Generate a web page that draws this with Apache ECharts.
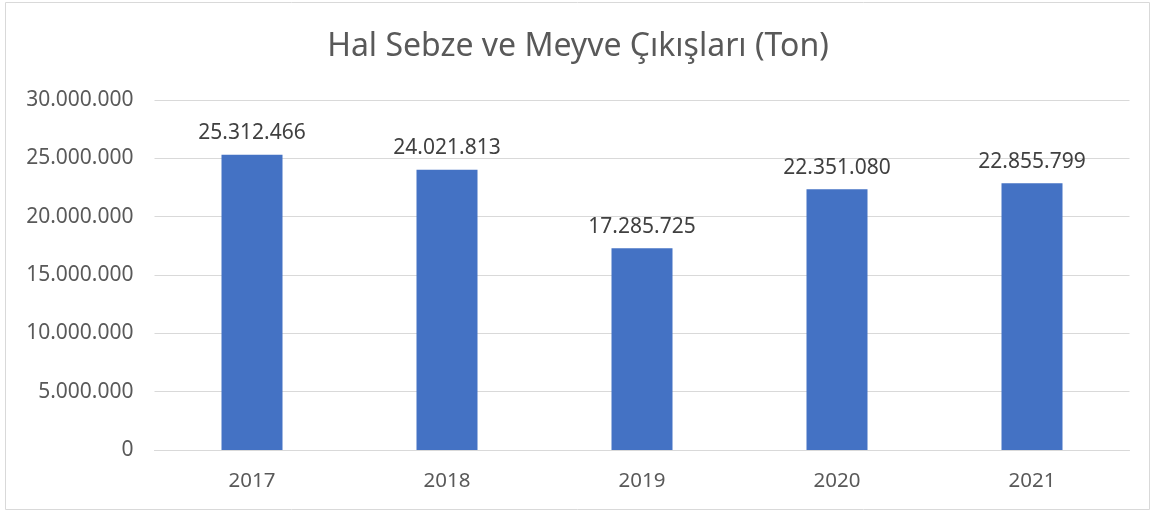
<!DOCTYPE html>
<html>
<head>
<meta charset="utf-8">
<script src="https://cdn.jsdelivr.net/npm/echarts@6/dist/echarts.min.js"></script>
<style>
    html, body { margin: 0; padding: 0; background: #fff; }
    #chart { width: 1156px; height: 513px; }
</style>
</head>
<body>
<div id="chart"></div>
<script>
// yıllar ve çıkış miktarları (ton)
const years = ['2017', '2018', '2019', '2020', '2021']
const tonnage = [25312466, 24021813, 17285725, 22351080, 22855799]

const fmt = (v) => String(v).replace(/\B(?=(\d{3})+(?!\d))/g, '.')

const myChart = echarts.init(document.getElementById('chart'))
const option = {
    textStyle: { fontFamily: 'Noto Sans' },
    title: {
        text: 'Hal Sebze ve Meyve Çıkışları (Ton)',
        left: 'center',
        top: 26,
        textStyle: { color: '#595959', fontSize: 32, fontWeight: 'normal', fontFamily: 'Noto Sans' }
    },
    graphic: [
        {
            type: 'rect',
            shape: { x: 5.5, y: 2.5, width: 1144, height: 507 },
            style: { fill: 'none', stroke: '#d9d9d9', lineWidth: 1 },
            silent: true
        }
    ],
    grid: { left: 154.5, right: 26.5, top: 100, bottom: 63 },
    xAxis: {
        type: 'category',
        data: years,
        axisLine: { lineStyle: { color: '#d9d9d9' } },
        axisTick: { show: false },
        axisLabel: { color: '#595959', fontSize: 20.5, margin: 21 }
    },
    yAxis: {
        type: 'value',
        min: 0,
        max: 30000000,
        interval: 5000000,
        axisLine: { show: false },
        axisTick: { show: false },
        splitLine: { lineStyle: { color: '#d9d9d9' } },
        axisLabel: { color: '#595959', fontSize: 21, margin: 21, formatter: fmt }
    },
    series: [
        {
            type: 'bar',
            data: tonnage,
            barWidth: 61,
            itemStyle: { color: '#4472c4' },
            label: {
                show: true,
                position: 'top',
                distance: 11,
                color: '#404040',
                fontSize: 21,
                formatter: (p) => fmt(p.value)
            }
        }
    ]
}
myChart.setOption(option)
</script>
</body>
</html>
